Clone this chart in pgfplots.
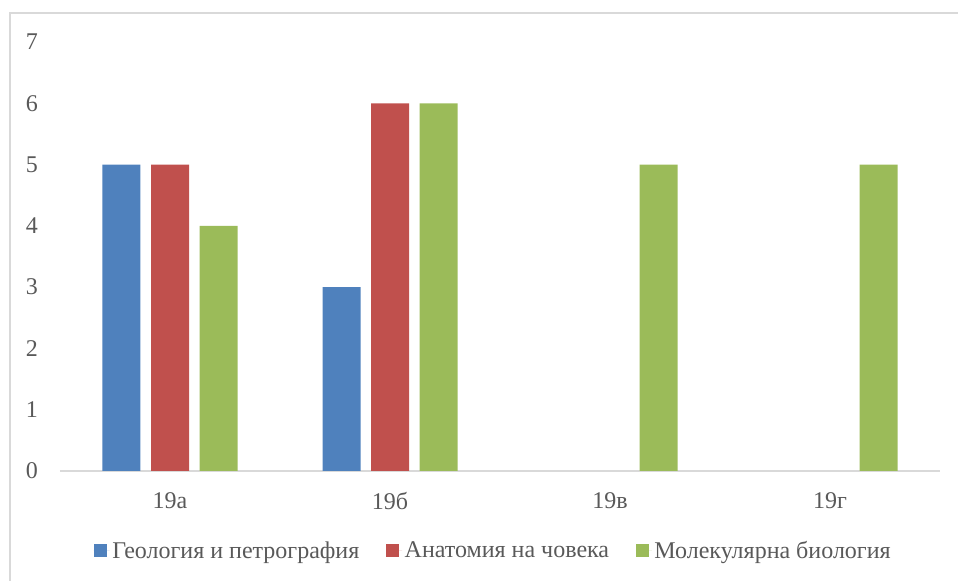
\documentclass[border=0pt]{standalone}
\usepackage{fontspec}
\setmainfont{Liberation Serif}
\usepackage{pgfplots}
\pgfplotsset{compat=1.18}
\definecolor{cblue}{HTML}{4F81BD}
\definecolor{cred}{HTML}{C0504D}
\definecolor{cgreen}{HTML}{9BBB59}
\definecolor{tgray}{HTML}{595959}
\definecolor{lgray}{HTML}{D9D9D9}
\begin{document}
\begin{tikzpicture}
\useasboundingbox (0,0) rectangle (718.5pt,435.75pt);
\draw[lgray, line width=1.5pt] (7.5pt,-2pt) -- (7.5pt,425.8pt) -- (720pt,425.8pt);
\begin{axis}[
  at={(45pt,82.5pt)}, anchor=south west,
  scale only axis, width=660pt, height=321.75pt,
  xmin=-0.5, xmax=3.5, ymin=0, ymax=7,
  ybar=7.875pt, bar width=28.5pt,
  axis x line*=bottom, axis y line*=left,
  x axis line style={draw=lgray, line width=0.9pt, -},
  y axis line style={draw=none},
  major tick length=0pt,
  xtick={0,1,2,3}, xticklabels={19а,19б,19в,19г},
  ytick={0,1,2,3,4,5,6,7},
  /pgf/number format/assume math mode=true,
  tick label style={text=tgray, font=\fontsize{18}{21}\selectfont},
  yticklabel style={xshift=-13pt},
  xticklabel style={yshift=-12.5pt},
  legend columns=3,
  legend style={at={(0.4926,-0.1865)}, anchor=center, draw=none, fill=none,
    font=\fontsize{18}{21}\selectfont, text=tgray,
    /tikz/every even column/.append style={column sep=18pt}},
  legend image code/.code={\fill[#1] (0pt,-4.875pt) rectangle (9.75pt,4.875pt); \path (0pt,0pt) -- (12pt,0pt);},
]
\addplot[fill=cblue, draw=none] coordinates {(0,5) (1,3)};
\addplot[fill=cred, draw=none] coordinates {(0,5) (1,6)};
\addplot[fill=cgreen, draw=none] coordinates {(0,4) (1,6) (2,5) (3,5)};
\legend{Геология и петрография, Анатомия на човека, Молекулярна биология}
\end{axis}
\end{tikzpicture}
\end{document}
